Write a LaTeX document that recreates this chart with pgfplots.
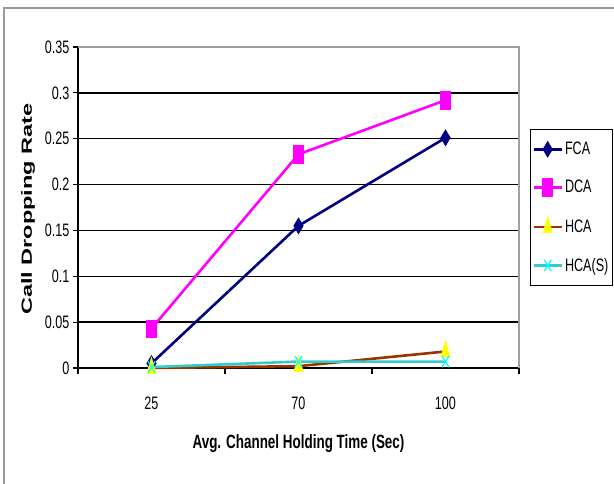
\documentclass[border=0pt]{standalone}
\usepackage{fontspec}
\setmainfont{Liberation Sans}[FakeStretch=0.70]
\newfontfamily\ylabfont{Liberation Sans}[FakeStretch=1.6]
\usepackage{pgfplots}
\pgfplotsset{compat=1.18}
\definecolor{fcac}{HTML}{000080}
\definecolor{dcac}{HTML}{FF00FF}
\definecolor{hcac}{HTML}{993300}
\definecolor{hcam}{HTML}{FFFF00}
\definecolor{hcsc}{HTML}{33CCCC}
\definecolor{hcsm}{HTML}{00FFFF}
\begin{document}
\begin{tikzpicture}[x=1pt,y=1pt]
\path[use as bounding box] (0,0) rectangle (614,484);
\draw[gray!80, line width=1.2pt] (4,-2) -- (4,476) -- (616,476);
\begin{axis}[
  at={(78pt,116pt)}, anchor=south west, scale only axis,
  width=441pt, height=321pt,
  xmin=-0.5, xmax=2.5, ymin=0, ymax=0.35,
  axis lines*=left,
  axis line style={-, black, line width=1.5pt},
  tick align=outside,
  xtick={0,1,2}, xticklabels={25,70,100},
  major x tick style={draw=none},
  extra x ticks={-0.5,0.5,1.5,2.5}, extra x tick labels={},
  extra x tick style={major tick length=6pt, major x tick style={draw=black, line width=1.2pt}},
  ytick={0,0.05,0.1,0.15,0.2,0.25,0.3,0.35},
  yticklabels={0,0.05,0.1,0.15,0.2,0.25,0.3,0.35},
  major tick length=5pt,
  major y tick style={black, line width=1.2pt},
  ymajorgrids,
  major grid style={black, line width=1.5pt},
  ticklabel style={font=\fontsize{18}{18}\selectfont},
  xticklabel style={yshift=-20pt},
  xlabel={\bfseries\fontsize{19.2}{19.2}\selectfont Avg. Channel Holding Time (Sec)},
  xlabel style={at={(axis description cs:0.5,0)}, anchor=center, yshift=-76pt},
  ylabel={\ylabfont\bfseries\fontsize{14.7}{14.7}\selectfont Call Dropping Rate},
  ylabel style={at={(axis description cs:-0.113,0.495)}, anchor=center},
  legend style={at={(1.025,0.745)}, anchor=north west, draw=black, line width=0.8pt,
    font=\fontsize{18}{18}\selectfont, row sep=20pt, inner xsep=2pt, inner ysep=11pt},
  legend cell align=left,
  legend image code/.code={\draw[mark repeat=2,mark phase=2] plot coordinates {(0pt,0pt) (14pt,0pt) (28pt,0pt)};},
  clip=false,
]
\draw[gray!75, line width=1.5pt] (rel axis cs:0,1) -- (rel axis cs:1,1) -- (rel axis cs:1,0);
\addplot[color=fcac, line width=2.6pt, mark=diamond*, mark size=8pt, mark options={xscale=0.8, line width=0.5pt}]
  coordinates {(0,0.005) (1,0.155) (2,0.251)};
\addlegendentry{FCA}
\addplot[color=dcac, line width=2.6pt, mark=square*, mark size=5pt, mark options={yscale=1.75, line width=0.5pt}]
  coordinates {(0,0.043) (1,0.233) (2,0.292)};
\addlegendentry{DCA}
\addplot[color=hcac, line width=2.6pt, mark=triangle*, mark size=6pt, mark options={yscale=1.8, xscale=0.9, draw=hcam, fill=hcam, line width=0.5pt}]
  coordinates {(0,0) (1,0.002) (2,0.018)};
\addlegendentry{HCA}
\addplot[color=hcsc, line width=2.6pt, mark=x, mark size=5pt, mark options={yscale=1.6, draw=hcsm, line width=1.2pt}]
  coordinates {(0,0.001) (1,0.007) (2,0.007)};
\addlegendentry{HCA(S)}
\end{axis}
\end{tikzpicture}
\end{document}
